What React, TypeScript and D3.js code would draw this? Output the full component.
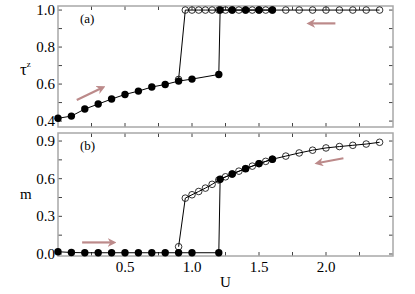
import React from "react";
import * as d3 from "d3";

// forward sweep (filled circles)
const uFwd = [0, 0.1, 0.2, 0.3, 0.4, 0.5, 0.6, 0.7, 0.8, 0.9, 1.0, 1.2, 1.21, 1.3, 1.4, 1.5, 1.6];
const tauFwd = [0.415, 0.427, 0.465, 0.492, 0.519, 0.544, 0.562, 0.584, 0.598, 0.616, 0.627, 0.652, 1.0, 1.0, 1.0, 1.0, 1.0];
const mFwd = [0.018, 0.012, 0.01, 0.01, 0.01, 0.01, 0.01, 0.01, 0.01, 0.01, 0.01, 0.01, 0.595, 0.637, 0.68, 0.72, 0.755];

// backward sweep (open circles)
const uBwd = [2.4, 2.3, 2.2, 2.1, 2.0, 1.9, 1.8, 1.7, 1.6, 1.55, 1.5, 1.45, 1.4, 1.35, 1.3, 1.25, 1.2, 1.15, 1.1, 1.05, 1.0, 0.95, 0.9];
const tauBwd = [1, 1, 1, 1, 1, 1, 1, 1, 1, 1, 1, 1, 1, 1, 1, 1, 1, 1, 1, 1, 1, 1, 0.625];
const mBwd = [0.89, 0.876, 0.866, 0.856, 0.845, 0.827, 0.805, 0.78, 0.755, 0.738, 0.72, 0.7, 0.68, 0.66, 0.637, 0.615, 0.59, 0.555, 0.525, 0.498, 0.472, 0.445, 0.058];

const xTicks = [0.5, 1.0, 1.5, 2.0];
const xMinor = [0.25, 0.5, 0.75, 1.0, 1.25, 1.5, 1.75, 2.0, 2.25];
const tauTicks = [0.4, 0.6, 0.8, 1.0];
const tauMinor = [0.4, 0.5, 0.6, 0.7, 0.8, 0.9, 1.0];
const mTicks = [0.0, 0.3, 0.6, 0.9];
const mMinor = [0.0, 0.15, 0.3, 0.45, 0.6, 0.75, 0.9];

const font = "'Liberation Serif', 'DejaVu Serif', serif";
const arrowColor = "#bc8a8a";

const x = d3.scaleLinear().domain([0, 2.5]).range([58, 393]);
const yTop = d3.scaleLinear().domain([0.368, 1.022]).range([127, 6]);
const yBot = d3.scaleLinear().domain([-0.016, 0.964]).range([256, 133]);

const Panel = ({ y, uF, vF, uB, vB, ticks, minor, fmt, label }: any) => {
  const [y0, y1] = y.range();
  const [x0, x1] = x.range();
  const line = d3.line<number>().x((d: any) => x(d[0])).y((d: any) => y(d[1]));
  const fwd = uF.map((u: number, i: number) => [u, vF[i]]);
  const bwd = uB.map((u: number, i: number) => [u, vB[i]]);
  return (
    <g>
      {/* ticks */}
      {xMinor.map((t) => (
        <g key={"x" + t} stroke="#444" strokeWidth={1}>
          <line x1={x(t)} x2={x(t)} y1={y0} y2={y0 - 4} />
          <line x1={x(t)} x2={x(t)} y1={y1} y2={y1 + 4} />
        </g>
      ))}
      {minor.map((t: number) => (
        <g key={"y" + t} stroke="#444" strokeWidth={1}>
          <line x1={x0} x2={x0 + 4} y1={y(t)} y2={y(t)} />
          <line x1={x1} x2={x1 - 4} y1={y(t)} y2={y(t)} />
        </g>
      ))}
      {ticks.map((t: number) => (
        <text key={"l" + t} x={x0 - 3} y={y(t) + 5} textAnchor="end" fontSize={15} fontFamily={font}>
          {fmt(t)}
        </text>
      ))}
      <rect x={x0} y={y1} width={x1 - x0} height={y0 - y1} fill="none" stroke="#a8a8a8" strokeWidth={1.5} />
      <text x={80} y={y1 + 17} fontSize={13} fontFamily={font}>{label}</text>
      <path d={line(bwd as any) || ""} fill="none" stroke="#000" strokeWidth={1} />
      <path d={line(fwd as any) || ""} fill="none" stroke="#000" strokeWidth={1} />
      {fwd.map((d: any, i: number) => (
        <circle key={"f" + i} cx={x(d[0])} cy={y(d[1])} r={3.7} fill="#000" />
      ))}
      {bwd.map((d: any, i: number) => (
        <circle key={"b" + i} cx={x(d[0])} cy={y(d[1])} r={3.3} fill="none" stroke="#000" strokeWidth={0.8} />
      ))}
    </g>
  );
};

const Arrow = ({ ax, ay, bx, by }: any) => (
  <line x1={ax} y1={ay} x2={bx} y2={by} stroke={arrowColor} strokeWidth={2.2} markerEnd="url(#head)" />
);

export default function App() {
  return (
    <svg width={415} height={294} style={{ position: "absolute", left: 0, top: 0, background: "#fff" }}>
      <defs>
        <marker id="head" viewBox="0 0 10 10" refX={6} refY={5} markerWidth={4} markerHeight={4} orient="auto">
          <path d="M0,0 L10,5 L0,10 L3,5 z" fill={arrowColor} />
        </marker>
      </defs>
      <Panel y={yTop} uF={uFwd} vF={tauFwd} uB={uBwd} vB={tauBwd} ticks={tauTicks} minor={tauMinor}
        fmt={(t: number) => t.toFixed(1)} label="(a)" />
      <Panel y={yBot} uF={uFwd} vF={mFwd} uB={uBwd} vB={mBwd} ticks={mTicks} minor={mMinor}
        fmt={(t: number) => t.toFixed(1)} label="(b)" />
      {xTicks.map((t) => (
        <text key={t} x={x(t)} y={272} textAnchor="middle" fontSize={15} fontFamily={font}>
          {t.toFixed(1)}
        </text>
      ))}
      <text x={x(1.25)} y={287} textAnchor="middle" fontSize={15} fontFamily={font}>U</text>
      <text x={20} y={75} fontSize={17} fontFamily={font}>
        τ<tspan fontSize={9} dy={-8}>z</tspan>
      </text>
      <text x={20} y={199} fontSize={15} fontFamily={font}>m</text>
      <Arrow ax={x(0.14)} ay={yTop(0.514)} bx={x(0.33)} by={yTop(0.58)} />
      <Arrow ax={x(2.07)} ay={yTop(0.928)} bx={x(1.88)} by={yTop(0.928)} />
      <Arrow ax={x(0.18)} ay={yBot(0.092)} bx={x(0.41)} by={yBot(0.092)} />
      <Arrow ax={x(2.13)} ay={yBot(0.763)} bx={x(1.94)} by={yBot(0.725)} />
    </svg>
  );
}
